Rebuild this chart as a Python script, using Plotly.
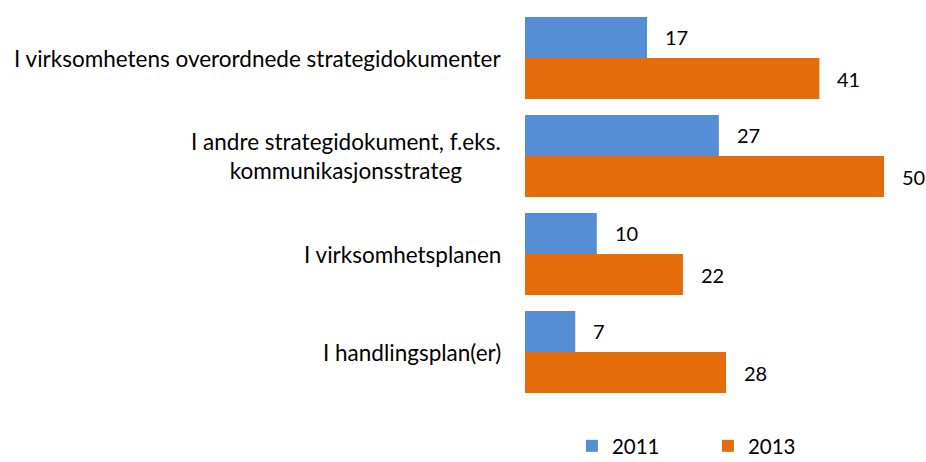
import plotly.graph_objects as go

categories = [
    "I virksomhetens overordnede strategidokumenter",
    "I andre strategidokument, f.eks.<br>kommunikasjonsstrateg",
    "I virksomhetsplanen",
    "I handlingsplan(er)",
]
series_names = ["2011", "2013"]
values_2011 = [17, 27, 10, 7]
values_2013 = [41, 50, 22, 28]
colors = ["#558ED5", "#E46C0A"]

fig = go.Figure()
for name, vals, col in zip(series_names, [values_2011, values_2013], colors):
    fig.add_trace(go.Bar(
        name=name, y=categories, x=vals, orientation="h",
        marker=dict(color=col, line=dict(width=0)),
    ))

FONT = "Lato"
annotations = []
# category labels
for cat in categories:
    annotations.append(dict(
        x=0, xref="paper", y=cat, yref="y", text=cat, showarrow=False,
        xanchor="right", align="center", xshift=-22,
        font=dict(family=FONT, size=22.5, color="#000000"),
    ))
# value labels
offsets = [-0.21, 0.21]
for vals, off in zip([values_2011, values_2013], offsets):
    for i, v in enumerate(vals):
        annotations.append(dict(
            x=v, xref="x", y=i + off, yref="y", text=str(v), showarrow=False,
            xanchor="left", xshift=16,
            font=dict(family=FONT, size=20, color="#000000"),
        ))

fig.update_layout(
    width=926, height=466,
    margin=dict(l=525, r=0, t=9, b=65),
    barmode="group", bargap=0.163, bargroupgap=0,
    plot_bgcolor="white", paper_bgcolor="white",
    showlegend=True,
    legend=dict(orientation="h", x=0.117, xanchor="left",
                yref="container", y=0, yanchor="bottom",
                font=dict(family=FONT, size=20.5, color="#000000"),
                entrywidth=91),
    annotations=annotations,
)
fig.update_xaxes(range=[0, 401 / 7.18], visible=False)
fig.update_yaxes(autorange="reversed", showticklabels=False, showgrid=False,
                 zeroline=False, showline=False, ticks="")

fig.write_html("out.html", config={"displayModeBar": False},
               post_script="document.body.style.margin='0';document.body.style.overflow='hidden';")
